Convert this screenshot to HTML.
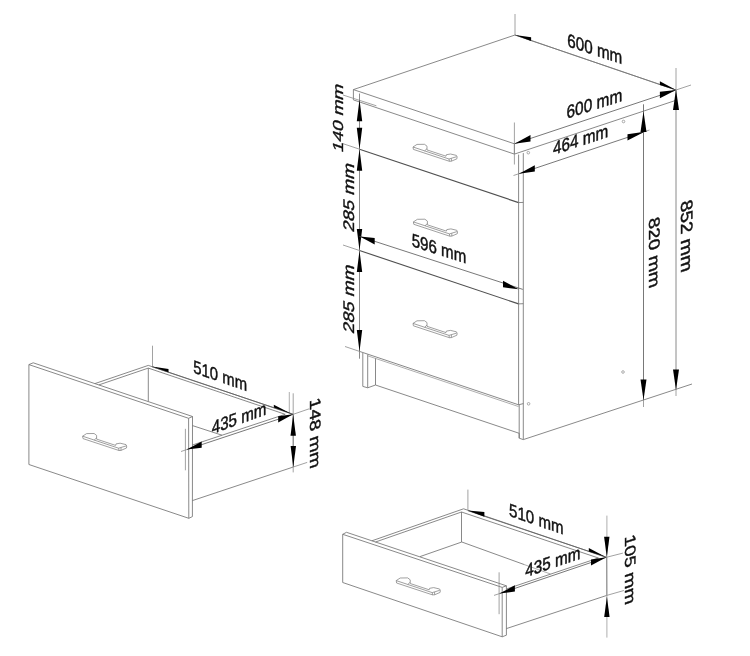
<!DOCTYPE html>
<html><head><meta charset="utf-8"><title>Cabinet dimensions</title>
<style>
html,body{margin:0;padding:0;background:#fff;}
body{width:750px;height:656px;overflow:hidden;font-family:"Liberation Sans",sans-serif;}
svg{display:block;filter:grayscale(1)}
svg text{font-family:"Liberation Sans",sans-serif;}
</style></head><body>
<svg width="750" height="656" viewBox="0 0 750 656">
<rect width="750" height="656" fill="#fff"/>
<path d="M514.4 143.8 L353.4 89.6 L515.0 35.0 L676.0 90.0" stroke="#747474" stroke-width="0.85" fill="none" stroke-linejoin="round"/>
<path d="M353.4 89.6 L353.4 99.9 L514.4 154.1 L676.0 100.3" stroke="#747474" stroke-width="0.85" fill="none" stroke-linejoin="round"/>
<line x1="514.4" y1="143.8" x2="514.4" y2="154.1" stroke="#747474" stroke-width="0.85"/>
<line x1="359.5" y1="149.2" x2="518.6" y2="202.6" stroke="#505050" stroke-width="1.15"/>
<line x1="518.6" y1="202.6" x2="523.3" y2="202.4" stroke="#747474" stroke-width="0.85"/>
<line x1="359.5" y1="250.5" x2="518.6" y2="303.9" stroke="#505050" stroke-width="1.15"/>
<line x1="518.6" y1="303.9" x2="523.3" y2="303.7" stroke="#747474" stroke-width="0.85"/>
<line x1="359.5" y1="351.4" x2="518.6" y2="404.8" stroke="#747474" stroke-width="0.85"/>
<line x1="518.6" y1="404.8" x2="523.3" y2="403.6" stroke="#747474" stroke-width="0.85"/>
<line x1="518.6" y1="154.6" x2="518.6" y2="404.8" stroke="#747474" stroke-width="0.85"/>
<line x1="523.3" y1="153.1" x2="523.3" y2="439.4" stroke="#747474" stroke-width="0.85"/>
<line x1="519.2" y1="404.8" x2="519.2" y2="438.2" stroke="#747474" stroke-width="0.85"/>
<line x1="362.8" y1="353.0" x2="362.8" y2="386.4" stroke="#747474" stroke-width="0.85"/>
<line x1="367.7" y1="354.5" x2="367.7" y2="387.7" stroke="#747474" stroke-width="0.85"/>
<line x1="375.5" y1="358.0" x2="375.5" y2="385.0" stroke="#747474" stroke-width="0.85"/>
<path d="M362.8 386.4 L367.7 387.8 L375.5 385.0" stroke="#747474" stroke-width="0.85" fill="none" stroke-linejoin="round"/>
<line x1="367.7" y1="355.8" x2="518.6" y2="406.6" stroke="#9a9a9a" stroke-width="0.8"/>
<line x1="375.5" y1="385.0" x2="519.2" y2="433.3" stroke="#747474" stroke-width="0.85"/>
<path d="M519.2 433.3 L519.2 438.2 L523.3 439.6" stroke="#747474" stroke-width="0.85" fill="none" stroke-linejoin="round"/>
<line x1="523.3" y1="439.6" x2="692.0" y2="384.0" stroke="#747474" stroke-width="0.85"/>
<circle cx="528.3" cy="152.7" r="1.3" fill="none" stroke="#888" stroke-width="0.7"/>
<circle cx="623" cy="372" r="1.3" fill="none" stroke="#888" stroke-width="0.7"/>
<circle cx="528.6" cy="403.8" r="1.3" fill="none" stroke="#888" stroke-width="0.7"/>
<circle cx="623.5" cy="121.5" r="1.3" fill="none" stroke="#888" stroke-width="0.7"/>
<path d="M413.0 147.0 L449.0 159.0 L449.4 161.3 L413.4 149.4 Z" stroke="#808080" stroke-width="0.75" fill="none" stroke-linejoin="round"/>
<path d="M413.0 147.0 L417.0 144.4 L424.5 144.3 L427.0 146.2 L427.0 149.9" stroke="#808080" stroke-width="0.75" fill="none" stroke-linejoin="round"/>
<path d="M424.6 150.9 L427.0 148.6" stroke="#808080" stroke-width="0.75" fill="none" stroke-linejoin="round"/>
<path d="M427.0 149.9 L446.0 156.2" stroke="#808080" stroke-width="0.75" fill="none" stroke-linejoin="round"/>
<path d="M446.0 156.2 L446.4 154.7 L450.5 154.0 L456.4 155.4 L457.1 156.8 L456.9 158.8 L451.4 161.2 L449.4 161.3" stroke="#808080" stroke-width="0.75" fill="none" stroke-linejoin="round"/>
<path d="M449.0 159.0 L456.6 156.7" stroke="#808080" stroke-width="0.75" fill="none" stroke-linejoin="round"/>
<path d="M451.4 158.4 L451.4 161.2" stroke="#808080" stroke-width="0.75" fill="none" stroke-linejoin="round"/>
<path d="M413.4 221.9 L449.4 233.9 L449.8 236.2 L413.8 224.3 Z" stroke="#808080" stroke-width="0.75" fill="none" stroke-linejoin="round"/>
<path d="M413.4 221.9 L417.4 219.3 L424.9 219.2 L427.4 221.1 L427.4 224.8" stroke="#808080" stroke-width="0.75" fill="none" stroke-linejoin="round"/>
<path d="M425.0 225.8 L427.4 223.5" stroke="#808080" stroke-width="0.75" fill="none" stroke-linejoin="round"/>
<path d="M427.4 224.8 L446.4 231.1" stroke="#808080" stroke-width="0.75" fill="none" stroke-linejoin="round"/>
<path d="M446.4 231.1 L446.8 229.6 L450.9 228.9 L456.8 230.3 L457.5 231.7 L457.3 233.7 L451.8 236.1 L449.8 236.2" stroke="#808080" stroke-width="0.75" fill="none" stroke-linejoin="round"/>
<path d="M449.4 233.9 L457.0 231.6" stroke="#808080" stroke-width="0.75" fill="none" stroke-linejoin="round"/>
<path d="M451.8 233.3 L451.8 236.1" stroke="#808080" stroke-width="0.75" fill="none" stroke-linejoin="round"/>
<path d="M413.0 323.4 L449.0 335.4 L449.4 337.7 L413.4 325.8 Z" stroke="#808080" stroke-width="0.75" fill="none" stroke-linejoin="round"/>
<path d="M413.0 323.4 L417.0 320.8 L424.5 320.7 L427.0 322.6 L427.0 326.3" stroke="#808080" stroke-width="0.75" fill="none" stroke-linejoin="round"/>
<path d="M424.6 327.3 L427.0 325.0" stroke="#808080" stroke-width="0.75" fill="none" stroke-linejoin="round"/>
<path d="M427.0 326.3 L446.0 332.6" stroke="#808080" stroke-width="0.75" fill="none" stroke-linejoin="round"/>
<path d="M446.0 332.6 L446.4 331.1 L450.5 330.4 L456.4 331.8 L457.1 333.2 L456.9 335.2 L451.4 337.6 L449.4 337.7" stroke="#808080" stroke-width="0.75" fill="none" stroke-linejoin="round"/>
<path d="M449.0 335.4 L456.6 333.1" stroke="#808080" stroke-width="0.75" fill="none" stroke-linejoin="round"/>
<path d="M451.4 334.8 L451.4 337.6" stroke="#808080" stroke-width="0.75" fill="none" stroke-linejoin="round"/>
<line x1="515.0" y1="14.0" x2="515.0" y2="35.0" stroke="#8a8a8a" stroke-width="0.8"/>
<line x1="676.0" y1="68.0" x2="676.0" y2="90.0" stroke="#8a8a8a" stroke-width="0.8"/>
<line x1="515.0" y1="35.0" x2="676.0" y2="90.0" stroke="#767676" stroke-width="0.8"/>
<polygon points="515.0,35.0 531.1,37.2 531.1,40.9" fill="#000"/>
<polygon points="676.0,90.0 659.9,81.3 659.9,85.0" fill="#000"/>
<text transform="matrix(0.9534 0.3130 0.0000 1.1640 567.22 46.14)" font-size="16" fill="#111" stroke="#111" stroke-width="0.4">600 mm</text>
<line x1="514.4" y1="122.5" x2="514.4" y2="164.5" stroke="#8a8a8a" stroke-width="0.8"/>
<line x1="514.4" y1="143.8" x2="676.0" y2="90.0" stroke="#606060" stroke-width="0.85"/>
<polygon points="514.4,143.8 530.5,134.9 530.5,141.4" fill="#000"/>
<polygon points="676.0,90.0 659.9,91.8 659.9,98.3" fill="#000"/>
<line x1="676.0" y1="90.0" x2="691.0" y2="85.0" stroke="#8a8a8a" stroke-width="0.8"/>
<text transform="matrix(0.9659 -0.3095 0.0000 1.1461 566.51 118.75)" font-size="16" fill="#111" stroke="#111" stroke-width="0.4">600 mm</text>
<line x1="519.0" y1="173.7" x2="643.6" y2="132.0" stroke="#606060" stroke-width="0.85"/>
<polygon points="519.0,173.7 534.8,165.2 534.8,171.6" fill="#000"/>
<line x1="513.5" y1="175.5" x2="519.0" y2="173.7" stroke="#8a8a8a" stroke-width="0.8"/>
<polygon points="644.6,131.7 627.5,134.2 627.5,140.6" fill="#000"/>
<line x1="643.6" y1="132.0" x2="649.5" y2="130.0" stroke="#8a8a8a" stroke-width="0.8"/>
<text transform="matrix(0.9583 -0.3123 0.0000 1.1461 553.05 154.91)" font-size="16" fill="#111" stroke="#111" stroke-width="0.4">464 mm</text>
<line x1="643.5" y1="104.3" x2="643.5" y2="400.0" stroke="#606060" stroke-width="0.85"/>
<polygon points="643.5,111.5 640.5,132.0 646.5,132.0" fill="#000"/>
<polygon points="643.5,400.0 646.5,379.5 640.5,379.5" fill="#000"/>
<line x1="643.5" y1="400.0" x2="643.5" y2="407.0" stroke="#8a8a8a" stroke-width="0.8"/>
<text transform="matrix(0.0000 1.2118 -0.9670 0.3223 648.90 219.17)" font-size="16" fill="#111" stroke="#111" stroke-width="0.4">820 mm</text>
<line x1="676.0" y1="90.0" x2="676.0" y2="390.0" stroke="#8a8a8a" stroke-width="1.0"/>
<polygon points="676.0,89.5 673.0,110.0 679.0,110.0" fill="#000"/>
<polygon points="676.0,390.0 679.0,369.5 673.0,369.5" fill="#000"/>
<line x1="676.0" y1="390.0" x2="676.0" y2="396.0" stroke="#8a8a8a" stroke-width="0.8"/>
<text transform="matrix(0.0000 1.2332 -1.0387 0.3492 680.60 202.15)" font-size="16" fill="#111" stroke="#111" stroke-width="0.4">852 mm</text>
<line x1="359.5" y1="93.5" x2="359.5" y2="358.7" stroke="#8a8a8a" stroke-width="1.0"/>
<line x1="343.0" y1="95.0" x2="376.4" y2="105.8" stroke="#8a8a8a" stroke-width="0.8"/>
<line x1="342.8" y1="143.6" x2="359.5" y2="149.2" stroke="#8a8a8a" stroke-width="0.8"/>
<line x1="343.0" y1="245.0" x2="359.5" y2="250.5" stroke="#8a8a8a" stroke-width="0.8"/>
<line x1="345.0" y1="346.5" x2="359.5" y2="351.4" stroke="#8a8a8a" stroke-width="0.8"/>
<polygon points="359.5,99.8 356.8,121.3 362.2,121.3" fill="#000"/>
<polygon points="359.5,149.2 362.2,127.7 356.8,127.7" fill="#000"/>
<polygon points="359.5,149.2 356.8,170.7 362.2,170.7" fill="#000"/>
<polygon points="359.5,250.5 362.2,229.0 356.8,229.0" fill="#000"/>
<polygon points="359.5,250.5 356.8,272.0 362.2,272.0" fill="#000"/>
<polygon points="359.5,351.4 362.2,329.9 356.8,329.9" fill="#000"/>
<text transform="matrix(0.0000 -1.1765 0.9044 0.3044 343.30 153.23)" font-size="16" fill="#111" stroke="#111" stroke-width="0.4">140 mm</text>
<text transform="matrix(0.0000 -1.1803 0.9581 0.3223 354.10 232.74)" font-size="16" fill="#111" stroke="#111" stroke-width="0.4">285 mm</text>
<text transform="matrix(0.0000 -1.1803 0.9581 0.3223 354.10 334.14)" font-size="16" fill="#111" stroke="#111" stroke-width="0.4">285 mm</text>
<line x1="359.5" y1="236.4" x2="522.8" y2="289.4" stroke="#606060" stroke-width="0.85"/>
<polygon points="359.9,236.4 374.7,237.9 374.7,244.6" fill="#000"/>
<polygon points="518.6,289.2 503.0,280.7 503.0,287.3" fill="#000"/>
<text transform="matrix(0.9451 0.3014 0.0000 1.1461 411.70 246.11)" font-size="16" fill="#111" stroke="#111" stroke-width="0.4">596 mm</text>
<path d="M28.9 364.6 L188.6 418.3 L188.8 518.3 L28.9 464.5 Z" stroke="#747474" stroke-width="0.85" fill="none" stroke-linejoin="round"/>
<path d="M28.9 364.6 L33.2 362.8 L192.5 416.5 L188.6 418.3" stroke="#747474" stroke-width="0.85" fill="none" stroke-linejoin="round"/>
<path d="M192.5 416.5 L192.4 516.6 L188.8 518.3" stroke="#747474" stroke-width="0.85" fill="none" stroke-linejoin="round"/>
<path d="M82.6 436.2 L118.6 448.2 L119.0 450.5 L83.0 438.6 Z" stroke="#808080" stroke-width="0.75" fill="none" stroke-linejoin="round"/>
<path d="M82.6 436.2 L86.6 433.6 L94.1 433.5 L96.6 435.4 L96.6 439.1" stroke="#808080" stroke-width="0.75" fill="none" stroke-linejoin="round"/>
<path d="M94.2 440.1 L96.6 437.8" stroke="#808080" stroke-width="0.75" fill="none" stroke-linejoin="round"/>
<path d="M96.6 439.1 L115.6 445.4" stroke="#808080" stroke-width="0.75" fill="none" stroke-linejoin="round"/>
<path d="M115.6 445.4 L116.0 443.9 L120.1 443.2 L126.0 444.6 L126.7 446.0 L126.5 448.0 L121.0 450.4 L119.0 450.5" stroke="#808080" stroke-width="0.75" fill="none" stroke-linejoin="round"/>
<path d="M118.6 448.2 L126.2 445.9" stroke="#808080" stroke-width="0.75" fill="none" stroke-linejoin="round"/>
<path d="M121.0 447.6 L121.0 450.4" stroke="#808080" stroke-width="0.75" fill="none" stroke-linejoin="round"/>
<path d="M94.9 383.6 L148.3 365.4 L293.2 414.3" stroke="#747474" stroke-width="0.85" fill="none" stroke-linejoin="round"/>
<path d="M98.9 384.9 L148.3 368.1 L285.2 414.3" stroke="#747474" stroke-width="0.85" fill="none" stroke-linejoin="round"/>
<line x1="148.3" y1="368.1" x2="148.3" y2="401.4" stroke="#747474" stroke-width="0.85"/>
<line x1="192.5" y1="425.6" x2="222.0" y2="435.2" stroke="#747474" stroke-width="0.85"/>
<line x1="192.5" y1="445.0" x2="285.2" y2="414.3" stroke="#747474" stroke-width="0.85"/>
<line x1="293.2" y1="414.3" x2="293.3" y2="467.0" stroke="#747474" stroke-width="0.85"/>
<line x1="192.4" y1="500.6" x2="293.3" y2="467.0" stroke="#747474" stroke-width="0.85"/>
<line x1="293.3" y1="467.0" x2="307.2" y2="462.4" stroke="#8a8a8a" stroke-width="0.8"/>
<line x1="152.5" y1="345.7" x2="152.5" y2="366.5" stroke="#8a8a8a" stroke-width="0.8"/>
<line x1="289.3" y1="392.0" x2="289.3" y2="413.0" stroke="#9a9a9a" stroke-width="0.8"/>
<line x1="293.2" y1="393.3" x2="293.2" y2="472.4" stroke="#8a8a8a" stroke-width="0.8"/>
<line x1="152.0" y1="366.7" x2="293.2" y2="414.3" stroke="#606060" stroke-width="0.85"/>
<polygon points="152.0,366.6 168.5,369.1 168.5,372.3" fill="#000"/>
<polygon points="291.8,413.9 273.8,404.8 273.8,407.6" fill="#000"/>
<text transform="matrix(0.9308 0.3245 0.0000 1.1282 193.30 372.59)" font-size="16" fill="#111" stroke="#111" stroke-width="0.4">510 mm</text>
<line x1="185.4" y1="428.8" x2="185.4" y2="470.3" stroke="#8a8a8a" stroke-width="0.8"/>
<line x1="181.0" y1="451.5" x2="186.7" y2="449.6" stroke="#8a8a8a" stroke-width="0.8"/>
<line x1="186.7" y1="449.6" x2="293.2" y2="414.3" stroke="#606060" stroke-width="0.85"/>
<polygon points="186.7,449.6 201.7,441.5 201.7,447.7" fill="#000"/>
<polygon points="293.2,414.3 278.2,416.2 278.2,422.4" fill="#000"/>
<text transform="matrix(0.9458 -0.3425 0.0000 1.1461 211.75 434.13)" font-size="16" fill="#111" stroke="#111" stroke-width="0.4">435 mm</text>
<line x1="293.2" y1="414.3" x2="309.2" y2="408.8" stroke="#8a8a8a" stroke-width="0.8"/>
<polygon points="293.2,414.7 290.5,435.7 295.9,435.7" fill="#000"/>
<polygon points="293.3,467.0 296.0,446.0 290.6,446.0" fill="#000"/>
<text transform="matrix(0.0000 1.2071 -0.9491 0.3223 310.00 399.93)" font-size="16" fill="#111" stroke="#111" stroke-width="0.4">148 mm</text>
<path d="M342.7 534.3 L502.2 587.4 L502.2 636.8 L342.7 582.5 Z" stroke="#747474" stroke-width="0.85" fill="none" stroke-linejoin="round"/>
<path d="M342.7 534.3 L346.5 532.3 L506.4 585.8 L502.2 587.4" stroke="#747474" stroke-width="0.85" fill="none" stroke-linejoin="round"/>
<path d="M506.4 585.8 L506.4 635.2 L502.2 636.8" stroke="#747474" stroke-width="0.85" fill="none" stroke-linejoin="round"/>
<path d="M396.2 580.6 L432.2 592.6 L432.6 594.9 L396.6 583.0 Z" stroke="#808080" stroke-width="0.75" fill="none" stroke-linejoin="round"/>
<path d="M396.2 580.6 L400.2 578.0 L407.7 577.9 L410.2 579.8 L410.2 583.5" stroke="#808080" stroke-width="0.75" fill="none" stroke-linejoin="round"/>
<path d="M407.8 584.5 L410.2 582.2" stroke="#808080" stroke-width="0.75" fill="none" stroke-linejoin="round"/>
<path d="M410.2 583.5 L429.2 589.8" stroke="#808080" stroke-width="0.75" fill="none" stroke-linejoin="round"/>
<path d="M429.2 589.8 L429.6 588.3 L433.7 587.6 L439.6 589.0 L440.3 590.4 L440.1 592.4 L434.6 594.8 L432.6 594.9" stroke="#808080" stroke-width="0.75" fill="none" stroke-linejoin="round"/>
<path d="M432.2 592.6 L439.8 590.3" stroke="#808080" stroke-width="0.75" fill="none" stroke-linejoin="round"/>
<path d="M434.6 592.0 L434.6 594.8" stroke="#808080" stroke-width="0.75" fill="none" stroke-linejoin="round"/>
<path d="M371.9 540.8 L463.6 508.8 L606.4 557.3" stroke="#747474" stroke-width="0.85" fill="none" stroke-linejoin="round"/>
<path d="M375.5 542.0 L461.5 512.0 L598.4 558.0" stroke="#747474" stroke-width="0.85" fill="none" stroke-linejoin="round"/>
<line x1="461.5" y1="512.0" x2="461.5" y2="542.0" stroke="#747474" stroke-width="0.85"/>
<line x1="461.8" y1="542.0" x2="524.6" y2="564.7" stroke="#747474" stroke-width="0.85"/>
<line x1="524.6" y1="564.7" x2="550.5" y2="574.0" stroke="#9a9a9a" stroke-width="0.8"/>
<line x1="461.8" y1="542.0" x2="420.0" y2="556.6" stroke="#747474" stroke-width="0.85"/>
<line x1="506.4" y1="589.0" x2="598.4" y2="558.0" stroke="#747474" stroke-width="0.85"/>
<line x1="606.6" y1="557.3" x2="606.8" y2="595.4" stroke="#747474" stroke-width="0.85"/>
<line x1="506.4" y1="628.6" x2="606.8" y2="595.4" stroke="#747474" stroke-width="0.85"/>
<line x1="606.8" y1="595.4" x2="623.9" y2="590.5" stroke="#8a8a8a" stroke-width="0.8"/>
<line x1="467.9" y1="489.6" x2="467.9" y2="510.4" stroke="#8a8a8a" stroke-width="0.8"/>
<line x1="606.9" y1="515.6" x2="606.9" y2="637.6" stroke="#9a9a9a" stroke-width="0.8"/>
<line x1="467.9" y1="510.7" x2="606.4" y2="557.3" stroke="#606060" stroke-width="0.85"/>
<polygon points="467.9,510.6 484.4,512.1 484.4,516.7" fill="#000"/>
<polygon points="605.3,556.8 588.8,548.0 588.8,551.6" fill="#000"/>
<text transform="matrix(0.9433 0.3281 0.0000 1.1282 509.10 515.79)" font-size="16" fill="#111" stroke="#111" stroke-width="0.4">510 mm</text>
<line x1="499.1" y1="572.3" x2="499.1" y2="614.2" stroke="#8a8a8a" stroke-width="0.8"/>
<line x1="494.0" y1="595.4" x2="499.5" y2="593.6" stroke="#8a8a8a" stroke-width="0.8"/>
<line x1="499.5" y1="593.6" x2="606.4" y2="557.3" stroke="#606060" stroke-width="0.85"/>
<polygon points="499.5,593.6 514.9,585.3 514.9,591.5" fill="#000"/>
<polygon points="606.4,557.3 591.0,559.4 591.0,565.6" fill="#000"/>
<text transform="matrix(0.9547 -0.3230 0.0000 1.1461 525.35 577.32)" font-size="16" fill="#111" stroke="#111" stroke-width="0.4">435 mm</text>
<line x1="606.4" y1="557.3" x2="622.9" y2="553.1" stroke="#8a8a8a" stroke-width="0.8"/>
<polygon points="606.8,557.3 609.5,536.8 604.1,536.8" fill="#000"/>
<polygon points="606.9,596.6 604.2,617.1 609.6,617.1" fill="#000"/>
<text transform="matrix(0.0000 1.1981 -0.9491 0.3223 624.60 536.64)" font-size="16" fill="#111" stroke="#111" stroke-width="0.4">105 mm</text>
</svg>
</body></html>
